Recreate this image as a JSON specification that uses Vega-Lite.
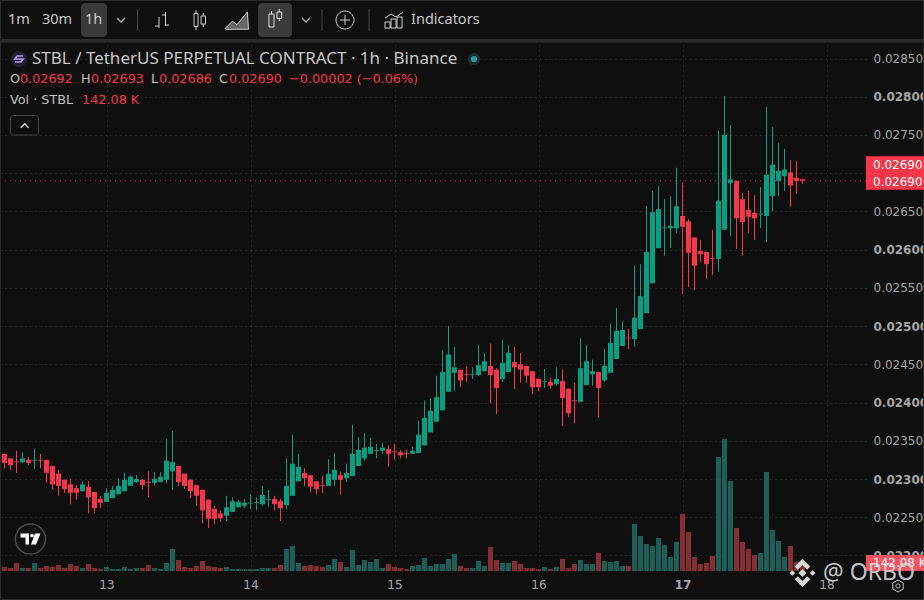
{
  "$schema": "https://vega.github.io/schema/vega-lite/v6.json",
  "width": 866,
  "height": 531,
  "autosize": {"type": "none"},
  "padding": {"left": 0, "top": 40, "right": 58, "bottom": 29},
  "background": "#0f0f0f",
  "view": {"stroke": null},
  "config": {
    "text": {"font": "DejaVu Sans", "align": "left", "baseline": "middle"},
    "point": {"opacity": 1}
  },
  "datasets": {
    "candles": [
      {"t":0,"o":0.02333,"h":0.02333,"l":0.02314,"c":0.02321,"v":71},
      {"t":1,"o":0.02327,"h":0.02327,"l":0.02312,"c":0.02318,"v":53},
      {"t":2,"o":0.02323,"h":0.02337,"l":0.02308,"c":0.02322,"v":142},
      {"t":3,"o":0.02322,"h":0.02335,"l":0.02321,"c":0.02327,"v":53},
      {"t":4,"o":0.02325,"h":0.02329,"l":0.02318,"c":0.02321,"v":53},
      {"t":5,"o":0.02324,"h":0.02339,"l":0.02313,"c":0.02325,"v":142},
      {"t":6,"o":0.02325,"h":0.02333,"l":0.02314,"c":0.02324,"v":53},
      {"t":7,"o":0.02325,"h":0.02325,"l":0.02295,"c":0.02308,"v":89},
      {"t":8,"o":0.02317,"h":0.02317,"l":0.02286,"c":0.02293,"v":71},
      {"t":9,"o":0.02307,"h":0.02312,"l":0.02278,"c":0.02291,"v":107},
      {"t":10,"o":0.02299,"h":0.02299,"l":0.02282,"c":0.02287,"v":53},
      {"t":11,"o":0.02293,"h":0.023,"l":0.02267,"c":0.02282,"v":124},
      {"t":12,"o":0.02288,"h":0.02292,"l":0.02273,"c":0.02282,"v":89},
      {"t":13,"o":0.02284,"h":0.02297,"l":0.02284,"c":0.02293,"v":53},
      {"t":14,"o":0.0229,"h":0.02297,"l":0.02255,"c":0.02276,"v":124},
      {"t":15,"o":0.02283,"h":0.02283,"l":0.02255,"c":0.02262,"v":53},
      {"t":16,"o":0.02274,"h":0.02278,"l":0.02262,"c":0.02269,"v":36},
      {"t":17,"o":0.0227,"h":0.02288,"l":0.0227,"c":0.02282,"v":71},
      {"t":18,"o":0.02275,"h":0.02291,"l":0.02275,"c":0.02286,"v":36},
      {"t":19,"o":0.0228,"h":0.023,"l":0.0228,"c":0.02291,"v":36},
      {"t":20,"o":0.02284,"h":0.02308,"l":0.02284,"c":0.02299,"v":71},
      {"t":21,"o":0.02291,"h":0.02305,"l":0.02291,"c":0.02303,"v":36},
      {"t":22,"o":0.02296,"h":0.02305,"l":0.02295,"c":0.023,"v":53},
      {"t":23,"o":0.02299,"h":0.023,"l":0.02287,"c":0.02292,"v":53},
      {"t":24,"o":0.02296,"h":0.0231,"l":0.02276,"c":0.02295,"v":107},
      {"t":25,"o":0.02295,"h":0.02309,"l":0.02291,"c":0.023,"v":53},
      {"t":26,"o":0.02296,"h":0.02309,"l":0.02296,"c":0.02303,"v":36},
      {"t":27,"o":0.02299,"h":0.02352,"l":0.02295,"c":0.02324,"v":142},
      {"t":28,"o":0.0231,"h":0.02363,"l":0.02286,"c":0.02322,"v":391},
      {"t":29,"o":0.02317,"h":0.02317,"l":0.02291,"c":0.02296,"v":195},
      {"t":30,"o":0.02307,"h":0.02307,"l":0.02287,"c":0.02291,"v":71},
      {"t":31,"o":0.02299,"h":0.023,"l":0.02275,"c":0.02284,"v":53},
      {"t":32,"o":0.02292,"h":0.02292,"l":0.02265,"c":0.02278,"v":89},
      {"t":33,"o":0.02286,"h":0.02286,"l":0.02242,"c":0.02259,"v":178},
      {"t":34,"o":0.02273,"h":0.02273,"l":0.02236,"c":0.02248,"v":89},
      {"t":35,"o":0.02261,"h":0.02265,"l":0.02241,"c":0.02248,"v":71},
      {"t":36,"o":0.02255,"h":0.02259,"l":0.02244,"c":0.02249,"v":53},
      {"t":37,"o":0.02252,"h":0.02278,"l":0.02245,"c":0.02263,"v":71},
      {"t":38,"o":0.02257,"h":0.02276,"l":0.02257,"c":0.02271,"v":36},
      {"t":39,"o":0.02263,"h":0.02273,"l":0.02263,"c":0.0227,"v":36},
      {"t":40,"o":0.02265,"h":0.02274,"l":0.02262,"c":0.02269,"v":36},
      {"t":41,"o":0.02268,"h":0.0228,"l":0.02261,"c":0.02269,"v":36},
      {"t":42,"o":0.02269,"h":0.02276,"l":0.02259,"c":0.0227,"v":36},
      {"t":43,"o":0.02267,"h":0.02291,"l":0.02265,"c":0.02279,"v":53},
      {"t":44,"o":0.02273,"h":0.02286,"l":0.02263,"c":0.02274,"v":53},
      {"t":45,"o":0.02274,"h":0.02278,"l":0.02259,"c":0.02267,"v":53},
      {"t":46,"o":0.02271,"h":0.02274,"l":0.02245,"c":0.02262,"v":107},
      {"t":47,"o":0.02266,"h":0.02327,"l":0.02261,"c":0.02291,"v":391},
      {"t":48,"o":0.02278,"h":0.02358,"l":0.02278,"c":0.0232,"v":444},
      {"t":49,"o":0.02297,"h":0.02333,"l":0.02297,"c":0.02316,"v":142},
      {"t":50,"o":0.02308,"h":0.02314,"l":0.02291,"c":0.02301,"v":89},
      {"t":51,"o":0.02305,"h":0.02305,"l":0.02283,"c":0.0229,"v":107},
      {"t":52,"o":0.02297,"h":0.02297,"l":0.0228,"c":0.02287,"v":89},
      {"t":53,"o":0.02292,"h":0.02304,"l":0.02282,"c":0.02291,"v":71},
      {"t":54,"o":0.02291,"h":0.02326,"l":0.02291,"c":0.02307,"v":107},
      {"t":55,"o":0.02299,"h":0.02334,"l":0.02291,"c":0.02312,"v":213},
      {"t":56,"o":0.02305,"h":0.0231,"l":0.0228,"c":0.02299,"v":160},
      {"t":57,"o":0.02301,"h":0.0232,"l":0.02296,"c":0.02308,"v":71},
      {"t":58,"o":0.02304,"h":0.02371,"l":0.02304,"c":0.02333,"v":373},
      {"t":59,"o":0.02317,"h":0.02355,"l":0.02317,"c":0.02338,"v":107},
      {"t":60,"o":0.02327,"h":0.0236,"l":0.02324,"c":0.02341,"v":195},
      {"t":61,"o":0.02333,"h":0.02354,"l":0.02333,"c":0.02342,"v":160},
      {"t":62,"o":0.02337,"h":0.02346,"l":0.02327,"c":0.02338,"v":213},
      {"t":63,"o":0.02337,"h":0.02347,"l":0.02333,"c":0.02341,"v":53},
      {"t":64,"o":0.02339,"h":0.02344,"l":0.02316,"c":0.02333,"v":124},
      {"t":65,"o":0.02336,"h":0.02346,"l":0.02326,"c":0.02335,"v":71},
      {"t":66,"o":0.02335,"h":0.02338,"l":0.02327,"c":0.02331,"v":53},
      {"t":67,"o":0.02334,"h":0.02338,"l":0.02327,"c":0.02333,"v":36},
      {"t":68,"o":0.02333,"h":0.02342,"l":0.02333,"c":0.02337,"v":89},
      {"t":69,"o":0.02334,"h":0.02376,"l":0.02334,"c":0.02358,"v":107},
      {"t":70,"o":0.02344,"h":0.02403,"l":0.02344,"c":0.0238,"v":231},
      {"t":71,"o":0.02361,"h":0.02405,"l":0.02361,"c":0.02389,"v":89},
      {"t":72,"o":0.02375,"h":0.02435,"l":0.02375,"c":0.02407,"v":124},
      {"t":73,"o":0.0239,"h":0.02469,"l":0.0239,"c":0.0244,"v":124},
      {"t":74,"o":0.02414,"h":0.025,"l":0.02414,"c":0.02463,"v":213},
      {"t":75,"o":0.02439,"h":0.02473,"l":0.02415,"c":0.02446,"v":302},
      {"t":76,"o":0.02443,"h":0.02443,"l":0.0242,"c":0.02429,"v":89},
      {"t":77,"o":0.02437,"h":0.02448,"l":0.02427,"c":0.02436,"v":53},
      {"t":78,"o":0.02436,"h":0.02446,"l":0.02431,"c":0.02437,"v":53},
      {"t":79,"o":0.02436,"h":0.02475,"l":0.02435,"c":0.02449,"v":178},
      {"t":80,"o":0.02441,"h":0.02465,"l":0.02441,"c":0.02454,"v":89},
      {"t":81,"o":0.02448,"h":0.02477,"l":0.02399,"c":0.02436,"v":426},
      {"t":82,"o":0.02443,"h":0.02445,"l":0.02385,"c":0.02419,"v":195},
      {"t":83,"o":0.02431,"h":0.02482,"l":0.02427,"c":0.02452,"v":142},
      {"t":84,"o":0.0244,"h":0.02475,"l":0.0244,"c":0.02465,"v":142},
      {"t":85,"o":0.02453,"h":0.02473,"l":0.02418,"c":0.02446,"v":178},
      {"t":86,"o":0.0245,"h":0.02465,"l":0.02426,"c":0.02443,"v":124},
      {"t":87,"o":0.02448,"h":0.02448,"l":0.02426,"c":0.02435,"v":53},
      {"t":88,"o":0.02441,"h":0.02441,"l":0.02411,"c":0.0242,"v":53},
      {"t":89,"o":0.02431,"h":0.02431,"l":0.02415,"c":0.0242,"v":36},
      {"t":90,"o":0.02427,"h":0.02444,"l":0.02419,"c":0.02428,"v":71},
      {"t":91,"o":0.02427,"h":0.02432,"l":0.02418,"c":0.02422,"v":36},
      {"t":92,"o":0.02424,"h":0.02446,"l":0.02422,"c":0.02431,"v":71},
      {"t":93,"o":0.02428,"h":0.02443,"l":0.02369,"c":0.02406,"v":213},
      {"t":94,"o":0.02418,"h":0.02418,"l":0.02381,"c":0.02386,"v":53},
      {"t":95,"o":0.02403,"h":0.02426,"l":0.02373,"c":0.02402,"v":124},
      {"t":96,"o":0.02401,"h":0.02484,"l":0.02401,"c":0.02445,"v":195},
      {"t":97,"o":0.02423,"h":0.02475,"l":0.02423,"c":0.02454,"v":124},
      {"t":98,"o":0.02437,"h":0.02456,"l":0.02422,"c":0.02441,"v":124},
      {"t":99,"o":0.0244,"h":0.0244,"l":0.02381,"c":0.02419,"v":320},
      {"t":100,"o":0.02429,"h":0.0247,"l":0.02427,"c":0.02448,"v":178},
      {"t":101,"o":0.02439,"h":0.02503,"l":0.02439,"c":0.02478,"v":160},
      {"t":102,"o":0.02457,"h":0.02524,"l":0.02457,"c":0.02494,"v":178},
      {"t":103,"o":0.02474,"h":0.02507,"l":0.02474,"c":0.02495,"v":89},
      {"t":104,"o":0.02485,"h":0.02496,"l":0.0247,"c":0.02484,"v":89},
      {"t":105,"o":0.02483,"h":0.02579,"l":0.02473,"c":0.02511,"v":835},
      {"t":106,"o":0.02496,"h":0.02581,"l":0.02496,"c":0.02539,"v":622},
      {"t":107,"o":0.02517,"h":0.02657,"l":0.02517,"c":0.02597,"v":480},
      {"t":108,"o":0.02556,"h":0.02677,"l":0.02556,"c":0.02649,"v":444},
      {"t":109,"o":0.02602,"h":0.02683,"l":0.02602,"c":0.02653,"v":586},
      {"t":110,"o":0.02628,"h":0.02666,"l":0.02592,"c":0.02629,"v":462},
      {"t":111,"o":0.02628,"h":0.0267,"l":0.02602,"c":0.02631,"v":249},
      {"t":112,"o":0.02628,"h":0.02707,"l":0.02622,"c":0.02657,"v":515},
      {"t":113,"o":0.02644,"h":0.02688,"l":0.02542,"c":0.0263,"v":1012},
      {"t":114,"o":0.02637,"h":0.0264,"l":0.02551,"c":0.02596,"v":693},
      {"t":115,"o":0.02616,"h":0.02616,"l":0.02547,"c":0.02579,"v":249},
      {"t":116,"o":0.02598,"h":0.02613,"l":0.02584,"c":0.02594,"v":124},
      {"t":117,"o":0.02597,"h":0.02597,"l":0.02562,"c":0.02581,"v":142},
      {"t":118,"o":0.02589,"h":0.02626,"l":0.02567,"c":0.02588,"v":266},
      {"t":119,"o":0.02588,"h":0.02756,"l":0.02571,"c":0.02664,"v":2025},
      {"t":120,"o":0.02626,"h":0.02801,"l":0.02626,"c":0.0275,"v":2344},
      {"t":121,"o":0.02687,"h":0.02763,"l":0.02618,"c":0.02692,"v":1598},
      {"t":122,"o":0.0269,"h":0.0269,"l":0.02601,"c":0.02641,"v":764},
      {"t":123,"o":0.02666,"h":0.02674,"l":0.02592,"c":0.02636,"v":515},
      {"t":124,"o":0.02652,"h":0.02677,"l":0.02622,"c":0.02643,"v":391},
      {"t":125,"o":0.02648,"h":0.02671,"l":0.02613,"c":0.02641,"v":284},
      {"t":126,"o":0.02646,"h":0.02682,"l":0.02628,"c":0.02647,"v":320},
      {"t":127,"o":0.02644,"h":0.02787,"l":0.0261,"c":0.02698,"v":1758},
      {"t":128,"o":0.0267,"h":0.0276,"l":0.0265,"c":0.02711,"v":728},
      {"t":129,"o":0.0269,"h":0.02739,"l":0.0267,"c":0.02703,"v":533},
      {"t":130,"o":0.02696,"h":0.02732,"l":0.02677,"c":0.02705,"v":249},
      {"t":131,"o":0.02701,"h":0.02717,"l":0.02656,"c":0.02684,"v":444},
      {"t":132,"o":0.02694,"h":0.02716,"l":0.02673,"c":0.0269,"v":160},
      {"t":133,"o":0.02692,"h":0.02693,"l":0.02686,"c":0.0269,"v":142.08}
    ]
  },
  "resolve": {"scale": {"y": "independent"}},
  "layer": [
    {
      "data": {"name": "candles"},
      "mark": {"type": "bar", "size": 5},
      "encoding": {
        "x": {
          "field": "t",
          "type": "quantitative",
          "scale": {"domain": [-0.75, 143.583], "nice": false, "zero": false, "padding": 0},
          "axis": {
            "title": null,
            "values": [17, 41, 65, 89, 113, 137],
            "labelExpr": "'' + (13 + (datum.value - 17) / 24)",
            "labelFont": "DejaVu Sans",
            "labelFontSize": 12,
            "labelFontWeight": {"expr": "datum.value == 113 ? 'bold' : 'normal'"},
            "labelColor": "#a6a6a6",
            "labelPadding": 8,
            "domain": false,
            "ticks": false,
            "grid": true,
            "gridColor": "#3a3a3a",
            "gridDash": [1, 4]
          }
        },
        "y": {
          "field": "v",
          "type": "quantitative",
          "scale": {"domain": [0, 9431], "nice": false},
          "axis": null
        },
        "color": {
          "condition": {"test": "datum.c >= datum.o", "value": "#1c5f58"},
          "value": "#852f33"
        }
      }
    },
    {
      "layer": [
        {
          "data": {"name": "candles"},
          "mark": {"type": "rule", "strokeWidth": 1},
          "encoding": {
            "x": {"field": "t", "type": "quantitative"},
            "y": {
              "field": "h",
              "type": "quantitative",
              "scale": {"domain": [0.021797, 0.028742], "nice": false, "zero": false},
              "axis": {
                "title": null,
                "orient": "right",
                "values": [0.022, 0.0225, 0.023, 0.0235, 0.024, 0.0245, 0.025, 0.0255, 0.026, 0.0265, 0.027, 0.0275, 0.028, 0.0285],
                "format": ".5f",
                "labelFont": "DejaVu Sans",
                "labelFontSize": 12,
                "labelFontWeight": {"expr": "abs(datum.value * 1000 - round(datum.value * 1000)) < 0.001 ? 'bold' : 'normal'"},
                "labelColor": "#a6a6a6",
                "labelPadding": 7,
                "domain": false,
                "ticks": false,
                "grid": true,
                "gridColor": "#3a3a3a",
                "gridDash": [1, 4]
              }
            },
            "y2": {"field": "l"},
            "color": {
              "condition": {"test": "datum.c >= datum.o", "value": "#089e82"},
              "value": "#f7364a"
            }
          }
        },
        {
          "data": {"name": "candles"},
          "mark": {"type": "bar", "size": 5},
          "encoding": {
            "x": {"field": "t", "type": "quantitative"},
            "y": {"field": "o", "type": "quantitative"},
            "y2": {"field": "c"},
            "color": {
              "condition": {"test": "datum.c >= datum.o", "value": "#089e82"},
              "value": "#f7364a"
            }
          }
        },
        {
          "data": {"values": [{"p": 0.0269}]},
          "mark": {"type": "rule", "color": "#f7364a", "strokeDash": [1, 4], "strokeWidth": 1, "opacity": 0.8},
          "encoding": {"y": {"field": "p", "type": "quantitative"}}
        },
        {
          "data": {"values": [{"a": -0.75, "b": 153.25, "p": 0.029265, "q": 0.021418}]},
          "mark": {"type": "rect", "fillOpacity": 0, "stroke": "#2a2a2a", "strokeWidth": 2},
          "encoding": {
            "x": {"field": "a", "type": "quantitative"},
            "x2": {"field": "b"},
            "y": {"field": "p", "type": "quantitative"},
            "y2": {"field": "q"}
          }
        },
        {
          "data": {"values": [
            {"a": -0.75, "b": 153.25, "p": 0.028755, "q": 0.028707}
          ]},
          "mark": {"type": "rect", "color": "#2a2a2a"},
          "encoding": {
            "x": {"field": "a", "type": "quantitative"},
            "x2": {"field": "b"},
            "y": {"field": "p", "type": "quantitative"},
            "y2": {"field": "q"}
          }
        },
        {
          "data": {"values": [
            {"a": 12.75, "b": 17.08, "p": 0.029226, "q": 0.028781},
            {"a": 42.25, "b": 47.92, "p": 0.029226, "q": 0.028781}
          ]},
          "mark": {"type": "rect", "color": "#3a3a3a", "cornerRadius": 4},
          "encoding": {
            "x": {"field": "a", "type": "quantitative"},
            "x2": {"field": "b"},
            "y": {"field": "p", "type": "quantitative"},
            "y2": {"field": "q"}
          }
        },
        {
          "data": {"values": [{"a": 1, "b": 5.67, "p": 0.027754, "q": 0.027499}]},
          "mark": {"type": "rect", "fill": "#0f0f0f", "stroke": "#444444", "cornerRadius": 3},
          "encoding": {
            "x": {"field": "a", "type": "quantitative"},
            "x2": {"field": "b"},
            "y": {"field": "p", "type": "quantitative"},
            "y2": {"field": "q"}
          }
        },
        {
          "data": {"values": [{"t": 22.17}, {"t": 52.92}, {"t": 60.75}]},
          "mark": {"type": "rule", "color": "#444444", "strokeWidth": 1},
          "encoding": {
            "x": {"field": "t", "type": "quantitative"},
            "y": {"datum": 0.029147},
            "y2": {"datum": 0.02886}
          }
        },
        {
          "data": {"values": [
            {"a": 143.58, "b": 153.25, "p": 0.027221, "q": 0.026784}
          ]},
          "mark": {"type": "rect", "color": "#f7364a"},
          "encoding": {
            "x": {"field": "a", "type": "quantitative"},
            "x2": {"field": "b"},
            "y": {"field": "p", "type": "quantitative"},
            "y2": {"field": "q"}
          }
        },
        {
          "data": {"values": [
            {"a": 143.58, "b": 153.25, "p": 0.022006, "q": 0.021797}
          ]},
          "mark": {"type": "rect", "color": "#f7525f"},
          "encoding": {
            "x": {"field": "a", "type": "quantitative"},
            "x2": {"field": "b"},
            "y": {"field": "p", "type": "quantitative"},
            "y2": {"field": "q"}
          }
        },
        {
          "data": {"values": [
            {"t": 144.75, "p": 0.027101, "s": "0.02690"},
            {"t": 144.75, "p": 0.026885, "s": "0.02690"},
            {"t": 144.75, "p": 0.021902, "s": "142.08 K"}
          ]},
          "mark": {"type": "text", "fontSize": 12, "color": "#ffffff"},
          "encoding": {
            "x": {"field": "t", "type": "quantitative"},
            "y": {"field": "p", "type": "quantitative"},
            "text": {"field": "s"}
          }
        },
        {
          "data": {"values": [
            {"t": 0.58, "p": 0.029003, "s": "1m"},
            {"t": 6.25, "p": 0.029003, "s": "30m"},
            {"t": 13.42, "p": 0.029003, "s": "1h"},
            {"t": 67.75, "p": 0.029003, "s": "Indicators"}
          ]},
          "mark": {"type": "text", "font": "Noto Sans", "fontSize": 14.5, "color": "#c8c8c8"},
          "encoding": {
            "x": {"field": "t", "type": "quantitative"},
            "y": {"field": "p", "type": "quantitative"},
            "text": {"field": "s"}
          }
        },
        {
          "data": {"values": [
            {"t": 4.58, "p": 0.028493, "s": "STBL / TetherUS PERPETUAL CONTRACT · 1h · Binance"}
          ]},
          "mark": {"type": "text", "font": "Noto Sans", "fontSize": 17, "color": "#c8c8c8"},
          "encoding": {
            "x": {"field": "t", "type": "quantitative"},
            "y": {"field": "p", "type": "quantitative"},
            "text": {"field": "s"}
          }
        },
        {
          "data": {"values": [
            {"t": 0.92, "p": 0.028232, "s": "O"},
            {"t": 12.75, "p": 0.028232, "s": "H"},
            {"t": 24.42, "p": 0.028232, "s": "L"},
            {"t": 35.75, "p": 0.028232, "s": "C"},
            {"t": 0.92, "p": 0.027957, "s": "Vol · STBL"}
          ]},
          "mark": {"type": "text", "fontSize": 12.8, "color": "#c0c0c0"},
          "encoding": {
            "x": {"field": "t", "type": "quantitative"},
            "y": {"field": "p", "type": "quantitative"},
            "text": {"field": "s"}
          }
        },
        {
          "data": {"values": [
            {"t": 2.58, "p": 0.028232, "s": "0.02692"},
            {"t": 14.42, "p": 0.028232, "s": "0.02693"},
            {"t": 25.75, "p": 0.028232, "s": "0.02686"},
            {"t": 37.42, "p": 0.028232, "s": "0.02690"},
            {"t": 47.42, "p": 0.028232, "s": "−0.00002 (−0.06%)"},
            {"t": 12.92, "p": 0.027957, "s": "142.08 K"}
          ]},
          "mark": {"type": "text", "fontSize": 12.8, "color": "#f7364a"},
          "encoding": {
            "x": {"field": "t", "type": "quantitative"},
            "y": {"field": "p", "type": "quantitative"},
            "text": {"field": "s"}
          }
        },
        {
          "data": {"values": [{"t": 19.42, "p": 0.029003}, {"t": 50.25, "p": 0.029003}]},
          "mark": {"type": "point", "shape": "M-1,-.5L0,.5L1,-.5", "size": 64, "stroke": "#b0b0b0", "strokeWidth": 1.3, "filled": false},
          "encoding": {
            "x": {"field": "t", "type": "quantitative"},
            "y": {"field": "p", "type": "quantitative"}
          }
        },
        {
          "data": {"values": [{"t": 26.25, "p": 0.029003}]},
          "mark": {"type": "point", "shape": "M-.3,-.3V.8M-.7,.6H-.3M.35,-.8V.6M0,-.5H.35M.35,.5H.7", "size": 400, "stroke": "#d0d0d0", "strokeWidth": 1, "filled": false},
          "encoding": {
            "x": {"field": "t", "type": "quantitative"},
            "y": {"field": "p", "type": "quantitative"}
          }
        },
        {
          "data": {"values": [{"t": 32.42, "p": 0.029003}]},
          "mark": {"type": "point", "shape": "M-.5,-.65H-.1V.65H-.5ZM-.3,-1V-.65M-.3,.65V1M.2,-.4H.65V.4H.2ZM.42,-.7V-.4M.42,.4V.7", "size": 400, "stroke": "#d0d0d0", "strokeWidth": 1, "filled": false},
          "encoding": {
            "x": {"field": "t", "type": "quantitative"},
            "y": {"field": "p", "type": "quantitative"}
          }
        },
        {
          "data": {"values": [{"t": 38.75, "p": 0.029003}]},
          "mark": {"type": "point", "shape": "M-1,.7L-.4,.1L0,.4L.9,-.7L1,.8H-1Z", "size": 529, "fill": "#666666", "stroke": "#d0d0d0", "strokeWidth": 1, "filled": true},
          "encoding": {
            "x": {"field": "t", "type": "quantitative"},
            "y": {"field": "p", "type": "quantitative"}
          }
        },
        {
          "data": {"values": [{"t": 45.08, "p": 0.029003}]},
          "mark": {"type": "point", "shape": "M-.6,-.6H-.1V.7H-.6ZM-.35,-.6V-.9M.2,-.8H.67V-.17H.2ZM.43,-.8V-1.1M.43,-.17V.1", "size": 400, "stroke": "#e0e0e0", "strokeWidth": 1, "filled": false},
          "encoding": {
            "x": {"field": "t", "type": "quantitative"},
            "y": {"field": "p", "type": "quantitative"}
          }
        },
        {
          "data": {"values": [{"t": 56.75, "p": 0.029003}]},
          "mark": {"type": "point", "shape": "M-.9,0A.9,.9,0,1,1,.9,0A.9,.9,0,1,1,-.9,0ZM-.5,0H.5M0,-.5V.5", "size": 400, "stroke": "#d0d0d0", "strokeWidth": 1, "filled": false},
          "encoding": {
            "x": {"field": "t", "type": "quantitative"},
            "y": {"field": "p", "type": "quantitative"}
          }
        },
        {
          "data": {"values": [{"t": 64.92, "p": 0.029003}]},
          "mark": {"type": "point", "shape": "M-.9,.8V.2H-.4V.8ZM-.3,.8V-.1H.2V.8ZM.3,.8V-.3H.8V.8ZM-.9,-.2L-.3,-.6L.2,-.3L.9,-.8", "size": 400, "stroke": "#d0d0d0", "strokeWidth": 1, "filled": false},
          "encoding": {
            "x": {"field": "t", "type": "quantitative"},
            "y": {"field": "p", "type": "quantitative"}
          }
        },
        {
          "data": {"values": [{"t": 3.36, "p": 0.02762}]},
          "mark": {"type": "point", "shape": "M-1,.5L0,-.5L1,.5", "size": 64, "stroke": "#d8d8d8", "strokeWidth": 1.3, "filled": false},
          "encoding": {
            "x": {"field": "t", "type": "quantitative"},
            "y": {"field": "p", "type": "quantitative"}
          }
        },
        {
          "data": {"values": [{"t": 2.42, "p": 0.028493}]},
          "mark": {"type": "point", "shape": "circle", "size": 254, "fill": "#242030", "filled": true},
          "encoding": {
            "x": {"field": "t", "type": "quantitative"},
            "y": {"field": "p", "type": "quantitative"}
          }
        },
        {
          "data": {"values": [{"t": 2.42, "p": 0.028493}]},
          "mark": {"type": "point", "shape": "M.7,-.5H-.3L-.7,0H.7L.3,.5H-.7", "size": 144, "stroke": "#b79cf0", "strokeWidth": 1.6, "filled": false},
          "encoding": {
            "x": {"field": "t", "type": "quantitative"},
            "y": {"field": "p", "type": "quantitative"}
          }
        },
        {
          "data": {"values": [{"t": 78.25, "p": 0.028493}]},
          "mark": {"type": "point", "shape": "circle", "size": 154, "fill": "#1a2e30", "filled": true},
          "encoding": {
            "x": {"field": "t", "type": "quantitative"},
            "y": {"field": "p", "type": "quantitative"}
          }
        },
        {
          "data": {"values": [{"t": 78.25, "p": 0.028493}]},
          "mark": {"type": "point", "shape": "circle", "size": 38, "fill": "#2a9aa6", "filled": true},
          "encoding": {
            "x": {"field": "t", "type": "quantitative"},
            "y": {"field": "p", "type": "quantitative"}
          }
        },
        {
          "data": {"values": [{"t": 4.33, "p": 0.022215}]},
          "mark": {"type": "point", "shape": "circle", "size": 908, "fill": "#111111", "stroke": "#4a4a4a", "strokeWidth": 1.5, "filled": false},
          "encoding": {
            "x": {"field": "t", "type": "quantitative"},
            "y": {"field": "p", "type": "quantitative"}
          }
        },
        {
          "data": {"values": [{"t": 4.33, "p": 0.022215}]},
          "mark": {"type": "point", "shape": "M-1,-.55H-.15V.55H-.5V-.15H-1ZM-.03,-.35A.18,.18,0,1,1,.33,-.35A.18,.18,0,1,1,-.03,-.35ZM.45,-.55H1L.55,.55H.05Z", "size": 400, "fill": "#ffffff", "filled": true},
          "encoding": {
            "x": {"field": "t", "type": "quantitative"},
            "y": {"field": "p", "type": "quantitative"}
          }
        },
        {
          "data": {"values": [{"t": 133, "p": 0.021771}]},
          "mark": {"type": "point", "shape": "M0,-.28L.28,0L0,.28L-.28,0ZM-.72,-.2L-.52,0L-.72,.2L-.92,0ZM.72,-.2L.92,0L.72,.2L.52,0ZM0,-1L.55,-.45L.33,-.23L0,-.56L-.33,-.23L-.55,-.45ZM0,1L.55,.45L.33,.23L0,.56L-.33,.23L-.55,.45Z", "size": 800, "fill": "#d8d8d8", "filled": true},
          "encoding": {
            "x": {"field": "t", "type": "quantitative"},
            "y": {"field": "p", "type": "quantitative"}
          }
        },
        {
          "data": {"values": [{"t": 148.92, "p": 0.021601}]},
          "mark": {"type": "point", "shape": "M0,-1L.87,-.5V.5L0,1L-.87,.5V-.5ZM.35,0A.35,.35,0,1,1,-.35,0A.35,.35,0,1,1,.35,0Z", "size": 144, "stroke": "#cccccc", "strokeWidth": 1, "filled": false},
          "encoding": {
            "x": {"field": "t", "type": "quantitative"},
            "y": {"field": "p", "type": "quantitative"}
          }
        },
        {
          "data": {"values": [{"t": 136.42, "p": 0.021771, "s": "@ ORBO"}]},
          "mark": {"type": "text", "font": "Noto Sans", "fontSize": 23, "color": "#d8d8d8", "opacity": 0.9},
          "encoding": {
            "x": {"field": "t", "type": "quantitative"},
            "y": {"field": "p", "type": "quantitative"},
            "text": {"field": "s"}
          }
        }
      ]
    }
  ]
}
